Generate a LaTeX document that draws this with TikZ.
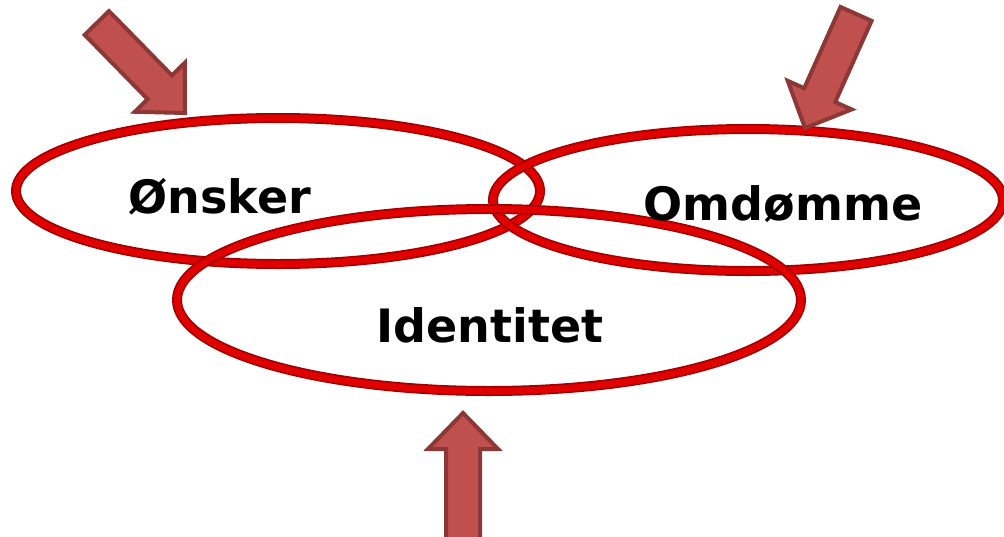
\documentclass[tikz,border=0pt]{standalone}
\usepackage{fontspec}
\setmainfont{DejaVu Sans}
\usetikzlibrary{calc}
\definecolor{ringdark}{RGB}{160,0,0}
\definecolor{ringred}{RGB}{225,0,0}
\definecolor{arrowfill}{RGB}{192,80,77}
\definecolor{arrowedge}{RGB}{140,56,54}
\tikzset{
  ringouter/.style={draw=ringdark, line width=7.5pt},
  ringinner/.style={draw=ringred, line width=5pt},
  label/.style={inner sep=0pt, anchor=base, font=\bfseries\fontsize{34.5}{41}\selectfont, text=black},
  arrowstyle/.style={fill=arrowfill, draw=arrowedge, line width=3pt, line join=miter},
  pics/blockarrow/.style={code={
    \draw[arrowstyle] (0,0) -- (-36,35) -- (-36,17) -- (-#1,17) -- (-#1,-17)
      -- (-36,-17) -- (-36,-35) -- cycle;
  }}
}
\begin{document}
\begin{tikzpicture}[x=0.75pt, y=-0.75pt]
  \useasboundingbox (0,0) rectangle (1004,536);
  \clip (0,0) rectangle (1004,536);

  % ring centres
  \coordinate (cOnsker) at (278,191);
  \coordinate (cOmd) at (748,200);
  \coordinate (cId) at (489,300);

  % three interlinked rings, each as a dark tube with a bright core
  \draw[ringouter] (cOnsker) ellipse [x radius=262, y radius=73];
  \draw[ringinner] (cOnsker) ellipse [x radius=262, y radius=73];
  \draw[ringouter] (cOmd) ellipse [x radius=255, y radius=71];
  \draw[ringinner] (cOmd) ellipse [x radius=255, y radius=71];
  \draw[ringouter] (cId) ellipse [x radius=312, y radius=91];
  \draw[ringinner] (cId) ellipse [x radius=312, y radius=91];

  % labels
  \node[label] (onsker) at (220,213) {Ønsker};
  \node[label] (omdomme) at (783,220) {Omdømme};
  \node[label] (identitet) at (490,342) {Identitet};

  % block arrows pointing at the rings
  \coordinate (tipA) at (185,113);
  \coordinate (tipB) at (805,128);
  \coordinate (tipC) at (463,413);
  \pic[rotate=-45.6] at (tipA) {blockarrow=126};
  \pic[rotate=-114.1] at (tipB) {blockarrow=125};
  \pic[rotate=90] at (tipC) {blockarrow=135};
\end{tikzpicture}
\end{document}
